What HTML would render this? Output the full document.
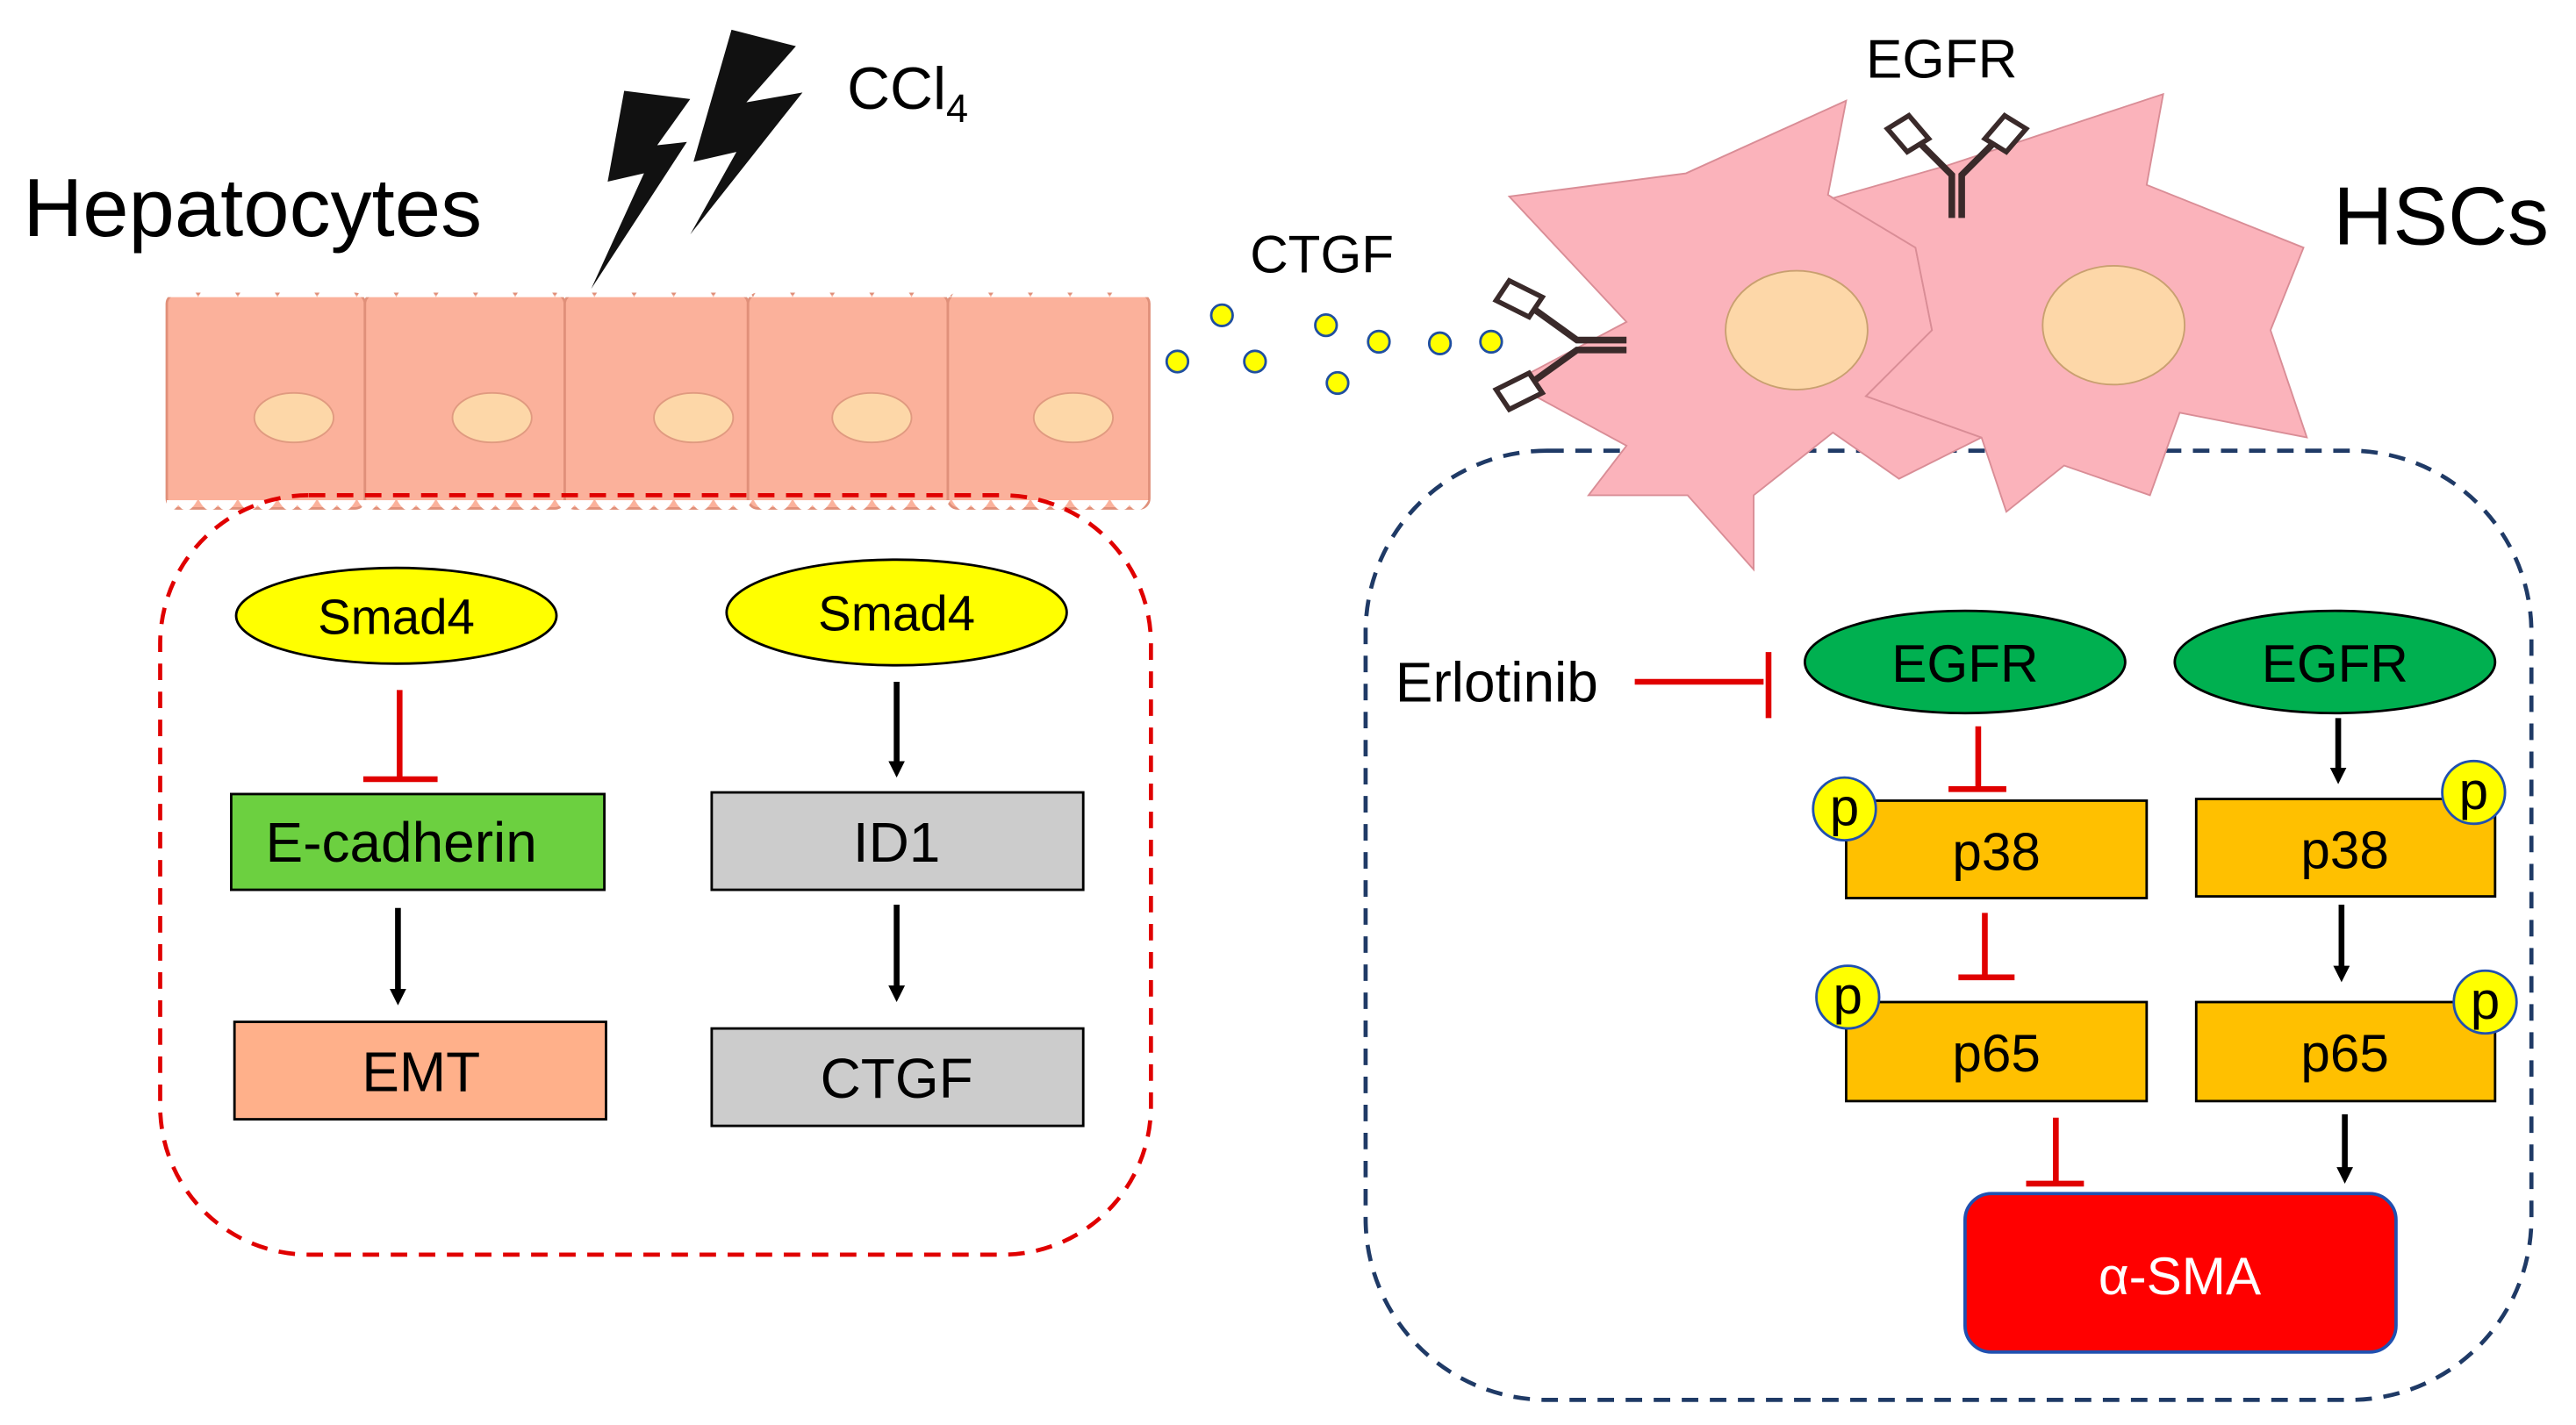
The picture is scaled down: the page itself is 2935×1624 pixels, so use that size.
<!DOCTYPE html>
<html><head><meta charset="utf-8"><style>html,body{margin:0;padding:0;background:#fff}svg{display:block}text{font-family:"Liberation Sans",sans-serif}</style></head>
<body>
<svg width="2935" height="1624" viewBox="0 0 1560 863.2" preserveAspectRatio="none" xmlns="http://www.w3.org/2000/svg">
<defs>
<marker id="ah" markerWidth="10" markerHeight="10" refX="5" refY="5" orient="auto" markerUnits="userSpaceOnUse"><path d="M0,0 L10,5 L0,10 z" fill="#000"/></marker>
<pattern id="wt" x="0" y="0" width="24" height="12" patternUnits="userSpaceOnUse"><path d="M0,12 Q6,0 12,8 Q18,0 24,12" fill="#fff"/></pattern>
</defs>
<text x="14" y="143" font-size="50">Hepatocytes</text>
<text x="513" y="66" font-size="36">CCl<tspan font-size="24" dy="8">4</tspan></text>
<text x="1413" y="148" font-size="50">HSCs</text>
<text x="1130" y="47" font-size="33">EGFR</text>
<text x="757" y="165" font-size="32">CTGF</text>
<polygon points="378,55 418,60 398,88 416,86 358,175 390,105 368,110" fill="#111"/>
<polygon points="443,18 482,28 452,62 486,56 418,142 446,92 420,98" fill="#111"/>
<g stroke="#e0907a" stroke-width="1.5" fill="#fbb19b">
<rect x="101" y="178" width="120" height="130" rx="6"/>
<rect x="221" y="178" width="121" height="130" rx="6"/>
<rect x="342" y="178" width="111" height="130" rx="6"/>
<rect x="453" y="178" width="121" height="130" rx="6"/>
<rect x="574" y="178" width="122" height="130" rx="6"/>
</g>
<rect x="101" y="175" width="595" height="9" fill="url(#wt)"/>
<rect x="101" y="303" width="595" height="8" fill="url(#wt)" transform="translate(0,614) scale(1,-1)"/>
<g fill="#fdd7a8" stroke="#e09a80" stroke-width="1">
<ellipse cx="178" cy="253" rx="24" ry="15"/>
<ellipse cx="298" cy="253" rx="24" ry="15"/>
<ellipse cx="420" cy="253" rx="24" ry="15"/>
<ellipse cx="528" cy="253" rx="24" ry="15"/>
<ellipse cx="650" cy="253" rx="24" ry="15"/>
</g>
<g fill="#ffff00" stroke="#1f4fa0" stroke-width="1.5">
<circle cx="713" cy="219" r="6.5"/><circle cx="740" cy="191" r="6.5"/><circle cx="760" cy="219" r="6.5"/>
<circle cx="803" cy="197" r="6.5"/><circle cx="810" cy="232" r="6.5"/><circle cx="835" cy="207" r="6.5"/>
<circle cx="872" cy="208" r="6.5"/><circle cx="903" cy="207" r="6.5"/>
</g>
<rect x="97" y="300" width="600" height="460" rx="90" fill="none" stroke="#e00000" stroke-width="2.5" stroke-dasharray="10,7"/>
<rect x="827" y="273" width="706" height="575" rx="110" fill="none" stroke="#1f3a66" stroke-width="2.5" stroke-dasharray="10,7"/>
<polygon points="914,119 1021,105 1118,61 1107,118 1160,150 1170,200 1130,240 1200,265 1150,290 1110,262 1062,300 1062,345 1022,300 962,300 985,270 915,232 985,195" fill="#fbb3bb" stroke="#d98d96" stroke-width="1"/>
<polygon points="1110,120 1180,100 1310,57 1300,112 1395,150 1375,200 1397,265 1320,250 1302,300 1250,282 1215,310 1200,265 1130,240 1170,200 1160,150" fill="#fbb3bb" stroke="#d98d96" stroke-width="1"/>
<ellipse cx="1088" cy="200" rx="43" ry="36" fill="#fdd7a8" stroke="#c9a070"/>
<ellipse cx="1280" cy="197" rx="43" ry="36" fill="#fdd7a8" stroke="#c9a070"/>
<g stroke="#3a2a2a" stroke-width="4" fill="none">
<path d="M1182,132 L1182,106 L1162,86 M1188,132 L1188,106 L1208,86"/>
<path d="M1155,92 L1143,78 L1156,70 L1168,84 z M1215,92 L1227,78 L1214,70 L1202,84 z" fill="#fff" stroke-width="3"/>
<path d="M985,206 L955,206 L930,188 M985,212 L955,212 L930,230"/>
<path d="M926,192 L906,182 L914,170 L934,180 z M926,226 L906,236 L914,248 L934,238 z" fill="#fff" stroke-width="3"/>
</g>
<g stroke="#000" stroke-width="1.5">
<ellipse cx="240" cy="373" rx="97" ry="29" fill="#ffff00"/>
<ellipse cx="543" cy="371" rx="103" ry="32" fill="#ffff00"/>
<rect x="140" y="481" width="226" height="58" fill="#6cd040"/>
<rect x="142" y="619" width="225" height="59" fill="#ffb08a"/>
<rect x="431" y="480" width="225" height="59" fill="#cccccc"/>
<rect x="431" y="623" width="225" height="59" fill="#cccccc"/>
</g>
<g font-size="30" text-anchor="middle">
<text x="240" y="384">Smad4</text>
<text x="543" y="382">Smad4</text>
</g>
<g font-size="34" text-anchor="middle">
<text x="243" y="522">E-cadherin</text>
<text x="255" y="661">EMT</text>
<text x="543" y="522">ID1</text>
<text x="543" y="665">CTGF</text>
</g>
<g stroke="#e00000" stroke-width="3.5" fill="none">
<path d="M242,418 V472 M220,472 H265"/>
<path d="M990,413 H1068 M1071,395 V435"/>
<path d="M1198,440 V478 M1180,478 H1215"/>
<path d="M1202,553 V592 M1186,592 H1220"/>
<path d="M1245,677 V717 M1227,717 H1262"/>
</g>
<g stroke="#000" stroke-width="3.5" marker-end="url(#ah)">
<line x1="241" y1="550" x2="241" y2="604"/>
<line x1="543" y1="413" x2="543" y2="466"/>
<line x1="543" y1="548" x2="543" y2="602"/>
<line x1="1416" y1="435" x2="1416" y2="470"/>
<line x1="1418" y1="548" x2="1418" y2="590"/>
<line x1="1420" y1="675" x2="1420" y2="712"/>
</g>
<text x="845" y="425" font-size="34">Erlotinib</text>
<g stroke="#000" stroke-width="1.5">
<ellipse cx="1190" cy="401" rx="97" ry="31" fill="#00b050"/>
<ellipse cx="1414" cy="401" rx="97" ry="31" fill="#00b050"/>
<rect x="1118" y="485" width="182" height="59" fill="#ffc000"/>
<rect x="1330" y="484" width="181" height="59" fill="#ffc000"/>
<rect x="1118" y="607" width="182" height="60" fill="#ffc000"/>
<rect x="1330" y="607" width="181" height="60" fill="#ffc000"/>
</g>
<rect x="1190" y="723" width="261" height="96" rx="16" fill="#ff0000" stroke="#2050b0" stroke-width="2"/>
<g font-size="32" text-anchor="middle">
<text x="1190" y="413">EGFR</text>
<text x="1414" y="413">EGFR</text>
<text x="1209" y="527">p38</text>
<text x="1420" y="526">p38</text>
<text x="1209" y="649">p65</text>
<text x="1420" y="649">p65</text>
<text x="1320" y="784" fill="#fff">α-SMA</text>
</g>
<g fill="#ffff00" stroke="#2050b0" stroke-width="1.5">
<circle cx="1117" cy="490" r="19"/><circle cx="1498" cy="480" r="19"/>
<circle cx="1119" cy="604" r="19"/><circle cx="1505" cy="607" r="19"/>
</g>
<g font-size="32" text-anchor="middle">
<text x="1117" y="500">p</text><text x="1498" y="490">p</text>
<text x="1119" y="614">p</text><text x="1505" y="617">p</text>
</g>
</svg>
</body></html>
